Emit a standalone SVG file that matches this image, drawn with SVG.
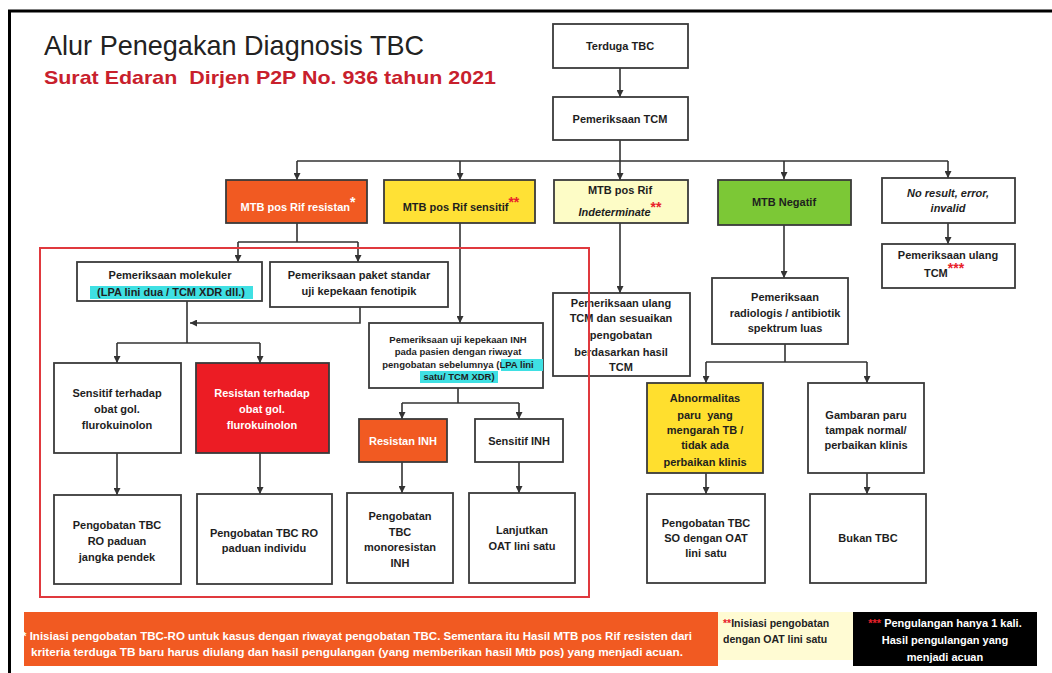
<svg xmlns="http://www.w3.org/2000/svg" width="1052" height="673" viewBox="0 0 1052 673">
<style>
.b{stroke:#3a3a3a;stroke-width:1.8}
.w{fill:#ffffff}
.t{font-family:"Liberation Sans",Arial,sans-serif;font-weight:bold;font-size:11px;fill:#1e1e1e;text-anchor:middle}
.s{font-size:9.5px}
.wt{fill:#ffffff}
.it{font-style:italic}
.red{fill:#e8202a}
.st{font-size:14px;baseline-shift:4px}
.c{fill:none;stroke:#333;stroke-width:1.6}
.a{marker-end:url(#ah)}
.hl{fill:#3fe0e3}
</style>
<defs>
<marker id="ah" markerWidth="7" markerHeight="7" refX="7" refY="3.5" orient="auto" markerUnits="userSpaceOnUse"><path d="M0,0 L7,3.5 L0,7 z" fill="#333"/></marker>
</defs>
<rect width="1052" height="673" fill="#ffffff"/>
<path d="M9.5,673 V11 H1052" fill="none" stroke="#000" stroke-width="3"/>
<g id="title">
<text x="44" y="55" font-family="'Liberation Sans',Arial,sans-serif" font-size="28" fill="#222" textLength="380" lengthAdjust="spacingAndGlyphs">Alur Penegakan Diagnosis TBC</text>
<text x="44" y="84" font-family="'Liberation Sans',Arial,sans-serif" font-weight="bold" font-size="19" fill="#c8202c" textLength="452" lengthAdjust="spacingAndGlyphs" xml:space="preserve">Surat Edaran  Dirjen P2P No. 936 tahun 2021</text>
</g>
<g id="connectors">
<path class="c a" d="M620,68 V97"/>
<path class="c" d="M620,140 V161 M297,161 H948"/>
<path class="c a" d="M297,161 V180"/>
<path class="c a" d="M460,161 V180"/>
<path class="c a" d="M620,161 V180"/>
<path class="c a" d="M784,161 V179"/>
<path class="c a" d="M948,161 V178"/>
<path class="c" d="M297,223 V242 M238,242 H358"/>
<path class="c a" d="M238,242 V262"/>
<path class="c a" d="M358,242 V262"/>
<path class="c a" d="M360,307 V323 H190"/>
<path class="c" d="M187,301 V343 M117,343 H260"/>
<path class="c a" d="M117,343 V363"/>
<path class="c a" d="M260,343 V363"/>
<path class="c a" d="M117,453 V495"/>
<path class="c a" d="M260,453 V494"/>
<path class="c a" d="M460,223 V323"/>
<path class="c" d="M458,388 V403 M402,403 H519"/>
<path class="c a" d="M402,403 V419"/>
<path class="c a" d="M519,403 V419"/>
<path class="c a" d="M402,462 V493"/>
<path class="c a" d="M519,462 V493"/>
<path class="c a" d="M620,223 V293"/>
<path class="c a" d="M784,225 V278"/>
<path class="c" d="M785,344 V362 M706,362 H867"/>
<path class="c a" d="M706,362 V383"/>
<path class="c a" d="M867,362 V383"/>
<path class="c a" d="M706,473 V494"/>
<path class="c a" d="M867,473 V494"/>
<path class="c a" d="M948,223 V244"/>
</g>
<g id="terduga"><rect class="b w" x="553" y="24" width="135" height="44"/><text class="t" x="620" y="50">Terduga TBC</text></g>
<g id="tcm"><rect class="b w" x="553" y="97" width="135" height="43"/><text class="t" x="620" y="123">Pemeriksaan TCM</text></g>
<g id="resistan"><rect class="b" fill="#f15a22" x="226" y="180" width="141" height="43"/><text class="t wt" x="298" y="211">MTB pos Rif resistan<tspan class="st">*</tspan></text></g>
<g id="sensitif"><rect class="b" fill="#ffe135" x="384" y="180" width="151" height="43"/><text class="t" x="461" y="211">MTB pos Rif sensitif<tspan class="st red">**</tspan></text></g>
<g id="indeterminate"><rect class="b" fill="#fdfcc6" x="554" y="180" width="134" height="43"/><text class="t" x="620" y="194">MTB pos Rif</text><text class="t it" x="620" y="216">Indeterminate<tspan class="st red" font-style="normal">**</tspan></text></g>
<g id="negatif"><rect class="b" fill="#7cc836" x="718" y="180" width="133" height="45"/><text class="t" x="784" y="206">MTB Negatif</text></g>
<g id="noresult"><rect class="b w" x="882" y="178" width="133" height="45"/><text class="t it" x="948" y="197">No result, error,</text><text class="t it" x="948" y="212">invalid</text></g>
<g id="ulangtcm"><rect class="b w" x="882" y="244" width="133" height="44"/><text class="t" x="948" y="259">Pemeriksaan ulang</text><text class="t" x="944" y="277">TCM<tspan class="st red">***</tspan></text></g>
<g id="molekuler"><rect class="b w" x="77" y="262" width="185" height="39"/><text class="t" x="170" y="279">Pemeriksaan molekuler</text><rect class="hl" x="90" y="286" width="163" height="13"/><text class="t" x="171" y="296">(LPA lini dua / TCM XDR dll.)</text></g>
<g id="paket"><rect class="b w" x="270" y="262" width="178" height="45"/><text class="t" x="359" y="279">Pemeriksaan paket standar</text><text class="t" x="359" y="295">uji kepekaan fenotipik</text></g>
<g id="sensfq"><rect class="b w" x="54" y="363" width="127" height="90"/><text class="t" x="117" y="397">Sensitif terhadap</text><text class="t" x="117" y="413">obat gol.</text><text class="t" x="117" y="429">flurokuinolon</text></g>
<g id="resfq"><rect class="b" fill="#ec1c24" x="196" y="363" width="133" height="90"/><text class="t wt" x="262" y="397">Resistan terhadap</text><text class="t wt" x="262" y="413">obat gol.</text><text class="t wt" x="262" y="429">flurokuinolon</text></g>
<g id="rojp"><rect class="b w" x="54" y="495" width="127" height="89"/><text class="t" x="117" y="529">Pengobatan TBC</text><text class="t" x="117" y="545">RO paduan</text><text class="t" x="117" y="561">jangka pendek</text></g>
<g id="roind"><rect class="b w" x="197" y="494" width="135" height="90"/><text class="t" x="264" y="537">Pengobatan TBC RO</text><text class="t" x="264" y="552">paduan individu</text></g>
<g id="inh"><rect class="b w" x="369" y="323" width="174" height="65"/><text class="t s" x="458" y="343">Pemeriksaan uji kepekaan INH</text><text class="t s" x="458" y="355">pada pasien dengan riwayat</text><rect class="hl" x="501" y="359" width="42" height="12"/><rect class="hl" x="420" y="371" width="78" height="12"/><text class="t s" x="458" y="368">pengobatan sebelumnya (LPA lini</text><text class="t s" x="459" y="380">satu/ TCM XDR)</text></g>
<g id="resinh"><rect class="b" fill="#f15a22" x="359" y="419" width="88" height="43"/><text class="t wt" x="403" y="445">Resistan INH</text></g>
<g id="sensinh"><rect class="b w" x="475" y="419" width="88" height="43"/><text class="t" x="519" y="445">Sensitif INH</text></g>
<g id="mono"><rect class="b w" x="347" y="493" width="106" height="90"/><text class="t" x="400" y="520">Pengobatan</text><text class="t" x="400" y="536">TBC</text><text class="t" x="400" y="551">monoresistan</text><text class="t" x="400" y="567">INH</text></g>
<g id="lanjut"><rect class="b w" x="469" y="493" width="106" height="90"/><text class="t" x="522" y="534">Lanjutkan</text><text class="t" x="522" y="550">OAT lini satu</text></g>
<g id="ulangsesuai"><rect class="b w" x="553" y="293" width="137" height="83"/><text class="t" x="621" y="307">Pemeriksaan ulang</text><text class="t" x="621" y="322">TCM dan sesuaikan</text><text class="t" x="621" y="339">pengobatan</text><text class="t" x="621" y="356">berdasarkan hasil</text><text class="t" x="621" y="371">TCM</text></g>
<g id="radiologis"><rect class="b w" x="712" y="278" width="136" height="66"/><text class="t" x="785" y="301">Pemeriksaan</text><text class="t" x="785" y="317">radiologis / antibiotik</text><text class="t" x="785" y="332">spektrum luas</text></g>
<g id="abnormal"><rect class="b" fill="#ffdf2e" x="647" y="383" width="116" height="90"/><text class="t" x="705" y="402">Abnormalitas</text><text class="t" x="705" y="419" xml:space="preserve">paru  yang</text><text class="t" x="705" y="434">mengarah TB /</text><text class="t" x="705" y="449">tidak ada</text><text class="t" x="705" y="466">perbaikan klinis</text></g>
<g id="gambaran"><rect class="b w" x="808" y="383" width="116" height="90"/><text class="t" x="866" y="419">Gambaran paru</text><text class="t" x="866" y="434">tampak normal/</text><text class="t" x="866" y="449">perbaikan klinis</text></g>
<g id="tbcso"><rect class="b w" x="647" y="494" width="118" height="89"/><text class="t" x="706" y="527">Pengobatan TBC</text><text class="t" x="706" y="542">SO dengan OAT</text><text class="t" x="706" y="557">lini satu</text></g>
<g id="bukan"><rect class="b w" x="810" y="494" width="116" height="89"/><text class="t" x="868" y="542">Bukan TBC</text></g>
<g id="frame"><rect x="40" y="248" width="549" height="349" fill="none" stroke="#e0393e" stroke-width="2"/></g>
<g id="legend">
<rect x="24" y="612" width="694" height="54" fill="#f15a22"/>
<text x="22" y="640" font-family="'Liberation Sans',Arial,sans-serif" font-weight="bold" font-size="10" fill="#fff" textLength="670" lengthAdjust="spacingAndGlyphs">* Inisiasi pengobatan TBC-RO untuk kasus dengan riwayat pengobatan TBC. Sementara itu Hasil MTB pos Rif resisten dari</text>
<text x="31" y="656" font-family="'Liberation Sans',Arial,sans-serif" font-weight="bold" font-size="10" fill="#fff" textLength="652" lengthAdjust="spacingAndGlyphs">kriteria terduga TB baru harus diulang dan hasil pengulangan (yang memberikan hasil Mtb pos) yang menjadi acuan.</text>
<rect x="718" y="612" width="135" height="48" fill="#fffbd3"/>
<text x="723" y="627" font-family="'Liberation Sans',Arial,sans-serif" font-weight="bold" font-size="10.5" fill="#222"><tspan fill="#e8202a">**</tspan>Inisiasi pengobatan</text>
<text x="723" y="643" font-family="'Liberation Sans',Arial,sans-serif" font-weight="bold" font-size="10.5" fill="#222">dengan OAT lini satu</text>
<rect x="853" y="612" width="184" height="54" fill="#000"/>
<text x="945" y="627" font-family="'Liberation Sans',Arial,sans-serif" font-weight="bold" font-size="11" fill="#fff" text-anchor="middle"><tspan fill="#e8202a">***</tspan> Pengulangan hanya 1 kali.</text>
<text x="945" y="644" font-family="'Liberation Sans',Arial,sans-serif" font-weight="bold" font-size="11" fill="#fff" text-anchor="middle">Hasil pengulangan yang</text>
<text x="945" y="661" font-family="'Liberation Sans',Arial,sans-serif" font-weight="bold" font-size="11" fill="#fff" text-anchor="middle">menjadi acuan</text>
</g>
</svg>
